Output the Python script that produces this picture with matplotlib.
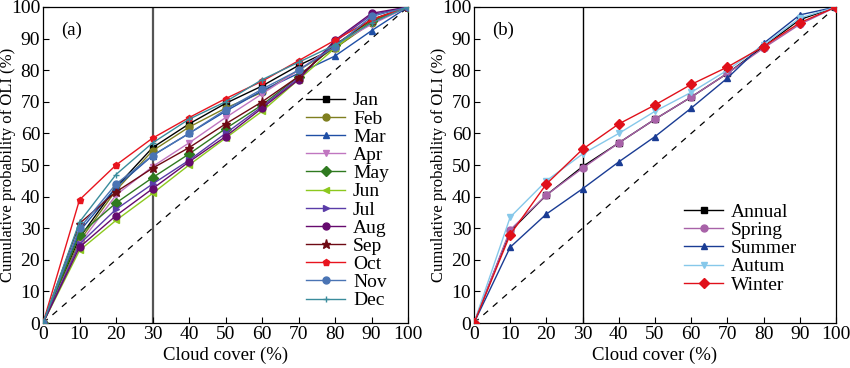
import numpy as np
import matplotlib.pyplot as plt

plt.rcParams['font.family'] = ['Liberation Serif', 'DejaVu Serif']
plt.rcParams['mathtext.fontset'] = 'stix'

# =============================
# DATA
# =============================
cloud = [0, 10, 20, 30, 40, 50, 60, 70, 80, 90, 100]

months = ["Jan", "Feb", "Mar", "Apr", "May", "Jun",
          "Jul", "Aug", "Sep", "Oct", "Nov", "Dec"]
jan = [0, 27, 43, 55.5, 63, 69.5, 75, 81.5, 87, 95.5, 100]
feb = [0, 26, 42, 54.5, 62, 68, 73, 80, 87, 95, 100]
mar = [0, 29, 43, 53, 60, 67, 73.5, 79, 84.5, 92.5, 100]
apr = [0, 25, 40.5, 49.5, 57, 65, 72.5, 80, 88, 94.5, 100]
may = [0, 28, 38, 46, 53.5, 61.5, 69, 78, 88, 95.5, 100]
jun = [0, 23, 32.5, 41, 50, 58.5, 67, 77, 87, 96, 100]
jul = [0, 25, 36, 44, 51.5, 60, 68.5, 77.5, 89, 97.5, 100]
aug = [0, 24, 34, 42.5, 51, 59, 68, 77, 89.5, 98, 100]
sep = [0, 31.5, 41.5, 49, 55.5, 63, 70, 78, 88, 96, 100]
oct_ = [0, 39, 50, 58.5, 65, 71, 76.5, 83, 89.5, 96, 100]
nov = [0, 30, 44, 53, 60, 67.5, 74, 80, 87.5, 97, 100]
dec = [0, 32, 47, 57, 64.5, 70, 77, 82.5, 88, 95, 100]

seasons = ["Annual", "Spring", "Summer", "Autum", "Winter"]
annual = [0, 29, 40.5, 49.5, 57, 64.5, 71.5, 79, 87.5, 96, 100]
spring = [0, 29.5, 40.5, 49, 57, 64.5, 71.5, 79, 87, 94.5, 100]
summer = [0, 24, 34.5, 42.5, 51, 59, 68, 77.5, 88.5, 97.5, 100]
autum = [0, 33.5, 45, 53.5, 60, 67, 73, 80, 88, 96.5, 100]
winter = [0, 28, 44, 55, 63, 69, 75.5, 81, 87.5, 95, 100]

month_vals = [jan, feb, mar, apr, may, jun, jul, aug, sep, oct_, nov, dec]
season_vals = [annual, spring, summer, autum, winter]

month_colors = ["#000000", "#7f7f1f", "#1f4fa5", "#c076c0", "#2f7a20", "#8cc81e",
                "#5a3ca8", "#660a6e", "#6e0a14", "#e8141e", "#4a74b4", "#3a8c9c"]
month_markers = ["s", "o", "^", "v", "D", "<", ">", "o", "*", "p", "o", "+"]

season_colors = ["#000000", "#a862a8", "#1a3c94", "#86c8ea", "#e0101a"]
season_markers = ["s", "o", "^", "v", "D"]

# =============================
# FIGURE
# =============================
fig = plt.figure(figsize=(8.5, 3.68), dpi=100)
ax1 = fig.add_axes([0.0506, 0.122, 0.4294, 0.859])
ax2 = fig.add_axes([0.5576, 0.122, 0.4259, 0.859])


def style_axis(ax, vcolor, vlw):
    ax.plot([0, 100], [0, 100], ls=(0, (5, 5)), color="black", lw=0.9, zorder=1)
    ax.axvline(30, color=vcolor, lw=vlw, zorder=1)
    ax.set_xlim(0, 100)
    ax.set_ylim(0, 100)
    ax.set_xticks(range(0, 101, 10))
    ax.set_yticks(range(0, 101, 10))
    ax.tick_params(direction="in", labelsize=14, length=4, width=0.8, pad=2)
    ax.set_xlabel("Cloud cover (%)", fontsize=13.5, labelpad=3)
    ax.set_ylabel("Cumulative probability of OLI (%)", fontsize=12)
    ax.yaxis.set_label_coords(-0.075, 0.5)
    for s in ax.spines.values():
        s.set_linewidth(0.9)


style_axis(ax1, "#555555", 1.6)
for name, vals, c, m in zip(months, month_vals, month_colors, month_markers):
    ax1.plot(cloud, vals, color=c, marker=m, ms=5 if m != "*" else 6.5,
             mfc=c, mec=c, lw=1.0, label=name, zorder=3)
ax1.text(0.05, 0.955, "(a)", transform=ax1.transAxes, fontsize=13.5, va="top")
ax1.legend(loc="lower right", bbox_to_anchor=(0.985, 0.0), frameon=False,
           fontsize=14, handlelength=2.0, handletextpad=0.4,
           labelspacing=0.03, borderpad=0.2)

style_axis(ax2, "#000000", 1.0)
for name, vals, c, m in zip(seasons, season_vals, season_colors, season_markers):
    ax2.plot(cloud, vals, color=c, marker=m, ms=5, mfc=c, mec=c, lw=1.0,
             label=name, zorder=3)
ax2.text(0.05, 0.955, "(b)", transform=ax2.transAxes, fontsize=13.5, va="top")
ax2.legend(loc="lower right", bbox_to_anchor=(0.93, 0.05), frameon=False,
           fontsize=14, handlelength=2.0, handletextpad=0.4,
           labelspacing=0.03, borderpad=0.2)

fig.savefig("out.png", dpi=100)
